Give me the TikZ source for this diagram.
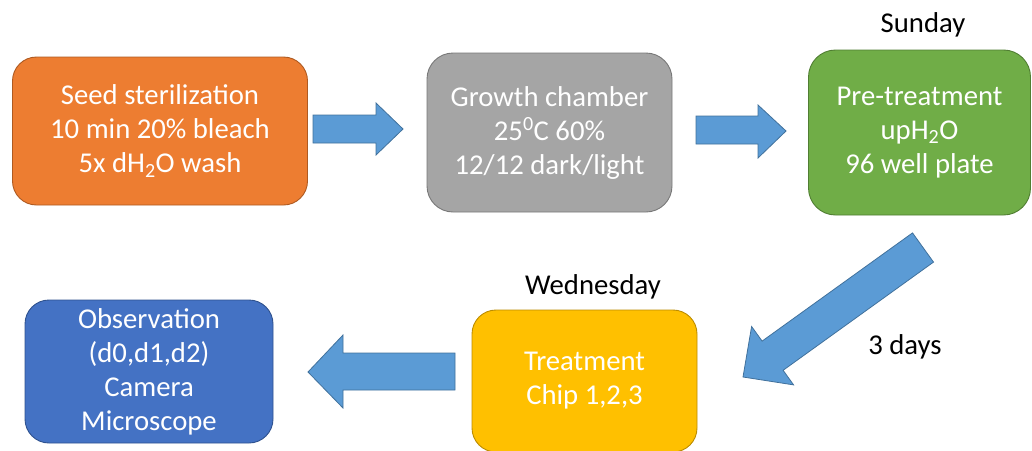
\documentclass[tikz,border=0pt]{standalone}
\usepackage{fontspec}
\setmainfont{Carlito}
\definecolor{orF}{HTML}{ED7D31}\definecolor{orB}{HTML}{AE5A21}
\definecolor{grF}{HTML}{A5A5A5}\definecolor{grB}{HTML}{787878}
\definecolor{gnF}{HTML}{70AD47}\definecolor{gnB}{HTML}{507E32}
\definecolor{blF}{HTML}{4472C4}\definecolor{blB}{HTML}{2F528F}
\definecolor{yeF}{HTML}{FFC000}\definecolor{yeB}{HTML}{BC8C00}
\definecolor{arF}{HTML}{5B9BD5}\definecolor{arB}{HTML}{41719C}
\tikzset{
  stepbox/.style={draw, line width=0.9pt, rectangle, align=center, inner sep=0pt,
    text=white, font=\fontsize{28.7}{34}\selectfont},
  daylabel/.style={text=black, inner sep=0pt, font=\fontsize{28.7}{34}\selectfont},
  blockarrow/.style={fill=arF, draw=arB, line width=0.8pt, line join=miter}
}
\begin{document}
\begin{tikzpicture}[x=1pt,y=-1pt]
\useasboundingbox (0,0) rectangle (1032,450);
% boxes
\node[stepbox, fill=orF, draw=orB, minimum width=295pt, minimum height=148pt, rounded corners=24pt]
  (seed) at (160,131) {Seed sterilization\\10 min 20\% bleach\\5x dH\textsubscript{2}O wash};
\node[stepbox, fill=grF, draw=grB, minimum width=245pt, minimum height=159pt, rounded corners=26pt]
  (growth) at (549.5,132.5) {Growth chamber\\25\textsuperscript{0}C 60\%\\12/12 dark/light};
\node[stepbox, fill=gnF, draw=gnB, minimum width=222pt, minimum height=165pt, rounded corners=27pt]
  (pre) at (919.5,132.5) {Pre-treatment\\upH\textsubscript{2}O\\96 well plate};
\node[stepbox, fill=yeF, draw=yeB, minimum width=225pt, minimum height=142pt, rounded corners=24pt]
  (treat) at (584.5,381) {Treatment\\Chip 1,2,3};
\node[stepbox, fill=blF, draw=blB, minimum width=248pt, minimum height=143pt, rounded corners=24pt]
  (obs) at (149,371.5) {Observation\\(d0,d1,d2)\\Camera\\Microscope};
% labels
\node[daylabel] (sun) at (923,25) {Sunday};
\node[daylabel] (wed) at (593,287) {Wednesday};
\node[daylabel] (days) at (905,347) {3 days};
% block arrows
\fill[blockarrow] (313,115) -- (376,115) -- (376,103) -- (403,129) -- (376,155) -- (376,143) -- (313,143) -- cycle;
\fill[blockarrow] (696,116) -- (758,116) -- (758,105) -- (786,131) -- (758,158) -- (758,144) -- (696,144) -- cycle;
\fill[blockarrow] (912.5,232.9) -- (762.1,341.1) -- (751.6,326.5) -- (743,377) -- (793.6,384.9) -- (783.1,370.3) -- (933.5,262.1) -- cycle;
\fill[blockarrow] (455,353) -- (343,353) -- (343,335) -- (308,372) -- (343,408) -- (343,390) -- (455,390) -- cycle;
\end{tikzpicture}
\end{document}
